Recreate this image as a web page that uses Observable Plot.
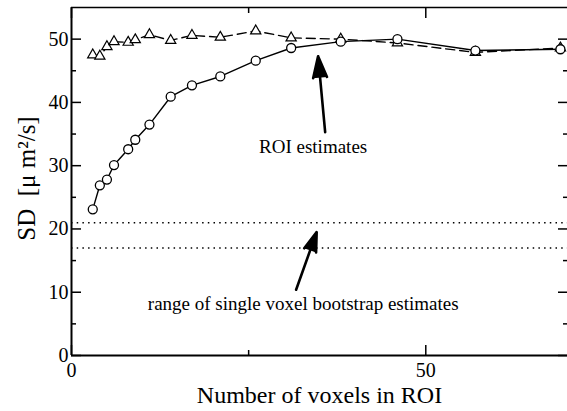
<!DOCTYPE html>
<html>
<head>
<meta charset="utf-8">
<script src="https://cdn.jsdelivr.net/npm/d3@7"></script>
<script src="https://cdn.jsdelivr.net/npm/@observablehq/plot@0.6"></script>
<style>
  html, body { margin: 0; padding: 0; background: #fff; }
</style>
</head>
<body>
<div id="chart"></div>
<script>
// Number of voxels in ROI
const voxels = [3, 4, 5, 6, 8, 9, 11, 14, 17, 21, 26, 31, 38, 46, 57, 69];
// SD series with circle markers (solid line)
const sdCircles = [23.1, 26.9, 27.8, 30.1, 32.6, 34.1, 36.5, 40.9, 42.7, 44.1, 46.6, 48.6, 49.6, 50.0, 48.2, 48.4];
// SD series with triangle markers (dashed line)
const sdTriangles = [47.5, 47.3, 48.8, 49.6, 49.5, 49.9, 50.7, 49.8, 50.6, 50.3, 51.3, 50.2, 50.0, 49.4, 47.9, 48.6];
// range of single voxel bootstrap estimates
const bootstrapRange = [17, 21];

const xMajorTicks = [0, 50];
const xMinorTicks = [25];
const yMajorTicks = [0, 10, 20, 30, 40, 50];
const yMinorTicks = [5, 15, 25, 35, 45];

const xTitle = "Number of voxels in ROI";
const yTitle = "SD\u00a0\u00a0[\u03bc\u00a0m\u00b2/s]";

const annotationLabels = ["ROI estimates", "range of single voxel bootstrap estimates"];
const annotationX = [34.1, 32.7];
const annotationY = [33.0, 8.1];

const arrowX1 = [35.8, 31.7];
const arrowY1 = [35.3, 10.4];
const arrowX2 = [34.8, 34.6];
const arrowY2 = [47.3, 19.5];

const circleData = voxels.map((v, i) => ({x: v, y: sdCircles[i]}));
const triangleData = voxels.map((v, i) => ({x: v, y: sdTriangles[i]}));
const annotations = annotationLabels.map((t, i) => ({t, x: annotationX[i], y: annotationY[i]}));
const arrows = arrowX1.map((x1, i) => ({x1, y1: arrowY1[i], x2: arrowX2[i], y2: arrowY2[i]}));

const serif = "'Liberation Serif', 'Times New Roman', Times, serif";

const chart = Plot.plot({
  width: 567,
  height: 411,
  marginLeft: 71,
  marginRight: 0,
  marginTop: 7,
  marginBottom: 56,
  x: {domain: [0, 70]},
  y: {domain: [0, 55]},
  style: {fontFamily: serif, color: "black", background: "white", overflow: "visible"},
  marks: [
    // tick labels
    Plot.axisX(xMajorTicks, {anchor: "bottom", tickSize: 0, tickPadding: 7, fontSize: 20, label: null}),
    Plot.axisY(yMajorTicks, {anchor: "left", tickSize: 0, tickPadding: 3, fontSize: 20, label: null}),
    // inward ticks on all four sides
    Plot.axisX(xMajorTicks, {anchor: "bottom", tickSize: -10, strokeWidth: 1.5, tickFormat: () => "", label: null}),
    Plot.axisX(xMinorTicks, {anchor: "bottom", tickSize: -5, strokeWidth: 1.5, tickFormat: () => "", label: null}),
    Plot.axisX(xMajorTicks, {anchor: "top", tickSize: -10, strokeWidth: 1.5, tickFormat: () => "", label: null}),
    Plot.axisX(xMinorTicks, {anchor: "top", tickSize: -5, strokeWidth: 1.5, tickFormat: () => "", label: null}),
    Plot.axisY(yMajorTicks, {anchor: "left", tickSize: -10, strokeWidth: 1.5, tickFormat: () => "", label: null}),
    Plot.axisY(yMinorTicks, {anchor: "left", tickSize: -5, strokeWidth: 1.5, tickFormat: () => "", label: null}),
    Plot.axisY(yMajorTicks, {anchor: "right", tickSize: -10, strokeWidth: 1.5, tickFormat: () => "", label: null}),
    Plot.axisY(yMinorTicks, {anchor: "right", tickSize: -5, strokeWidth: 1.5, tickFormat: () => "", label: null}),
    // frame (left, bottom, top)
    Plot.ruleX([0], {stroke: "black", strokeWidth: 2}),
    Plot.ruleY([0], {stroke: "black", strokeWidth: 2}),
    Plot.ruleY([55], {stroke: "black", strokeWidth: 1.5}),
    // axis titles
    Plot.text([xTitle], {frameAnchor: "bottom", dy: 40, lineAnchor: "middle", textAnchor: "middle", fontSize: 24, fill: "black"}),
    Plot.text([yTitle], {frameAnchor: "left", dx: -45, dy: -3, rotate: -90, lineAnchor: "middle", textAnchor: "middle", fontSize: 25, fill: "black"}),
    // bootstrap range
    Plot.ruleY(bootstrapRange, {stroke: "black", strokeWidth: 1.5, strokeDasharray: "1.5,4.2"}),
    // series
    Plot.line(triangleData, {x: "x", y: "y", stroke: "black", strokeWidth: 1.4, strokeDasharray: "9,5"}),
    Plot.line(circleData, {x: "x", y: "y", stroke: "black", strokeWidth: 1.4}),
    Plot.dot(triangleData, {x: "x", y: "y", symbol: "triangle", r: 3.8, stroke: "black", fill: "white", strokeWidth: 1.2}),
    Plot.dot(circleData, {x: "x", y: "y", symbol: "circle", r: 4.5, stroke: "black", fill: "white", strokeWidth: 1.3}),
    // annotations
    Plot.arrow(arrows, {x1: "x1", y1: "y1", x2: "x2", y2: "y2", stroke: "black", fill: "black", strokeWidth: 2.6, headLength: 13, headAngle: 36, strokeLinejoin: "miter"}),
    Plot.text(annotations, {x: "x", y: "y", text: "t", fontSize: 19, fill: "black", lineAnchor: "middle"})
  ]
});

document.getElementById("chart").appendChild(chart);
</script>
</body>
</html>
